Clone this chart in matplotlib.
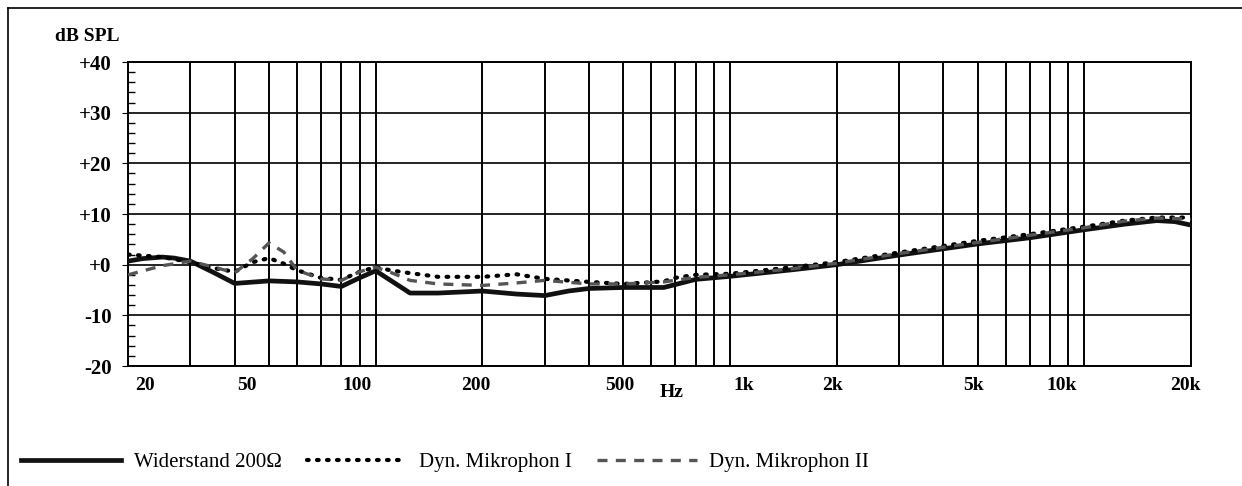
import numpy as np
import matplotlib
matplotlib.use('Agg')
import matplotlib.pyplot as plt
from matplotlib.lines import Line2D
from matplotlib.transforms import ScaledTranslation

plt.rcParams['font.family'] = ['Liberation Serif', 'DejaVu Serif']

# Widerstand 200 Ohm (solid)
f_wid = [20, 22, 25, 27, 30, 35, 40, 50, 60, 70, 80, 90, 100, 125, 150, 200, 250, 300,
         350, 400, 500, 650, 800, 1000, 1500, 2000, 3000, 5000, 7000, 10000, 13000,
         16000, 18000, 20000]
db_wid = [0.7, 1.2, 1.5, 1.3, 0.7, -1.6, -3.7, -3.2, -3.4, -3.8, -4.3, -2.6, -1.2, -5.6,
          -5.6, -5.2, -5.8, -6.1, -5.2, -4.7, -4.5, -4.5, -2.9, -2.3, -1.0, 0.0, 1.9, 4.1,
          5.3, 6.9, 8.0, 8.7, 8.5, 7.8]

# Dyn. Mikrophon I (dotted)
f_mic1 = [20, 25, 30, 35, 40, 45, 50, 55, 60, 70, 80, 90, 100, 110, 120, 150, 200, 250,
          300, 400, 500, 650, 700, 800, 1000, 1500, 2000, 3000, 5000, 7000, 10000, 13000,
          16000, 20000]
db_mic1 = [2.0, 1.5, 0.5, -0.7, -1.4, 0.5, 1.3, 0.2, -1.1, -2.6, -3.0, -1.4, -0.5, -1.1,
           -1.5, -2.4, -2.4, -1.9, -2.8, -3.4, -3.8, -3.3, -2.6, -2.0, -1.8, -0.5, 0.5,
           2.4, 4.7, 6.0, 7.5, 8.7, 9.3, 9.3]

# Dyn. Mikrophon II (dashed)
f_mic2 = [20, 25, 30, 35, 40, 45, 50, 55, 60, 70, 80, 90, 100, 110, 125, 150, 200, 250,
          300, 400, 500, 650, 800, 1000, 1500, 2000, 3000, 5000, 7000, 10000, 13000,
          16000, 20000]
db_mic2 = [-2.0, -0.2, 0.7, -0.5, -1.6, 1.2, 4.3, 2.5, -1.1, -2.8, -3.1, -1.4, -0.5, -1.5,
           -3.1, -3.8, -4.1, -3.6, -3.1, -3.8, -3.8, -3.4, -2.5, -2.0, -0.8, 0.3, 2.2,
           4.4, 5.8, 7.3, 8.6, 9.2, 9.0]

x_ticks = [20, 50, 100, 200, 500, 1000, 2000, 5000, 10000, 20000]
x_labels = ['20', '50', '100', '200', '500', '1k', '2k', '5k', '10k', '20k']
x_shift = [17, -22, -19, -7, -4, 14, -4, -4, -23, -6]   # label offsets in px
y_ticks = [-20, -10, 0, 10, 20, 30, 40]
y_labels = ['-20', '-10', '+0', '+10', '+20', '+30', '+40']
grid_f = [20, 30, 40, 50, 60, 70, 80, 90, 100, 200, 300, 400, 500, 600, 700, 800, 900,
          1000, 2000, 3000, 4000, 5000, 6000, 7000, 8000, 9000, 10000, 20000]

fig = plt.figure(figsize=(12.42, 4.86), dpi=100)
ax = fig.add_axes([0.1031, 0.2469, 0.8559, 0.6255])

ax.set_xscale('log')
ax.set_xlim(20, 20000)
ax.set_ylim(-20, 40)

for f in grid_f:
    ax.axvline(f, color='black', lw=1.4, zorder=1)
for y in y_ticks:
    ax.axhline(y, color='black', lw=1.2, zorder=1)

l1, = ax.plot(f_wid, db_wid, color='#111111', lw=3.4, solid_joinstyle='round', zorder=3)
l2, = ax.plot(f_mic1, db_mic1, color='black', lw=3.0, linestyle=(0, (0.4, 2.0)),
              dash_capstyle='round', zorder=4)
l3, = ax.plot(f_mic2, db_mic2, color='#555555', lw=2.4, linestyle=(0, (3, 2.5)), zorder=4)

ax.set_xticks(x_ticks)
ax.set_xticklabels(x_labels)
ax.xaxis.set_minor_locator(matplotlib.ticker.NullLocator())
ax.tick_params(axis='x', length=0, pad=8, labelsize=14)
for lab, dx in zip(ax.get_xticklabels(), x_shift):
    lab.set_transform(lab.get_transform() + ScaledTranslation(dx / 100, 0, fig.dpi_scale_trans))
    lab.set_fontweight('bold')

ax.set_yticks(y_ticks)
ax.set_yticklabels(y_labels, fontweight='bold')
ax.set_yticks(np.arange(-20, 41, 2), minor=True)
ax.tick_params(axis='y', which='major', length=4, direction='out', pad=8, labelsize=15)
ax.tick_params(axis='y', which='minor', length=5, direction='in', width=1)

for s in ax.spines.values():
    s.set_linewidth(1.4)

fig.text(0.044, 0.924, 'dB SPL', fontsize=14, fontweight='bold', va='center')
fig.text(0.531, 0.193, 'Hz', fontsize=14, fontweight='bold', va='center')

# outer frame (top and left edges)
fig.add_artist(Line2D([0.0066, 1.0], [0.983, 0.983], color='black', lw=1.2,
                      transform=fig.transFigure))
fig.add_artist(Line2D([0.0066, 0.0066], [0.0, 0.983], color='black', lw=1.2,
                      transform=fig.transFigure))

fig.legend([l1, l2, l3], ['Widerstand 200\u03a9', 'Dyn. Mikrophon I', 'Dyn. Mikrophon II'],
           loc='center left', bbox_to_anchor=(0.002, 0.048), ncol=3, frameon=False,
           fontsize=15, handlelength=4.8, handletextpad=0.6, columnspacing=1.2)

fig.savefig('out.png', dpi=100)
